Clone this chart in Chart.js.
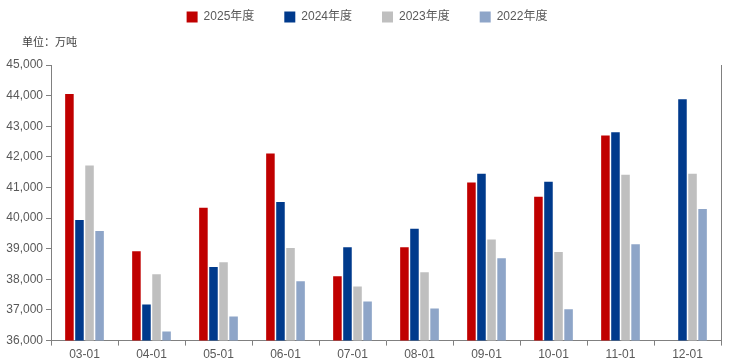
<!DOCTYPE html>
<html>
<head>
<meta charset="utf-8">
<script src="https://cdn.jsdelivr.net/npm/chart.js@4"></script>
<style>
  html, body { margin: 0; padding: 0; background: #fff; }
  #wrap { width: 734px; height: 364px; }
</style>
</head>
<body>
<div id="wrap"><canvas id="canvas"></canvas></div>
<script>
let labels = ['03-01', '04-01', '05-01', '06-01', '07-01', '08-01', '09-01', '10-01', '11-01', '12-01'];
let y2025 = [44050, 38920, 40340, 42110, 38100, 39050, 41160, 40700, 42700, null];
let y2024 = [39940, 37180, 38400, 40530, 39050, 39650, 41450, 41190, 42800, 43880];
let y2023 = [41720, 38170, 38560, 39020, 37770, 38230, 39300, 38890, 41420, 41450];
let y2022 = [39580, 36300, 36790, 37940, 37280, 37050, 38690, 37020, 39150, 40300];
let unit = '单位：万吨';

let font = '"Liberation Sans", "Noto Sans CJK SC", sans-serif';
let textColor = '#595959';
let axisColor = '#808080';

function series(label, data, color) {
  return {
    label: label,
    data: data,
    backgroundColor: color,
    borderWidth: 0,
    categoryPercentage: 0.6,
    barPercentage: 0.85
  };
}

// little extras: unit text at top-left and more room under the legend
let extras = {
  id: 'extras',
  beforeInit(chart) {
    let fit = chart.legend.fit;
    chart.legend.fit = function () {
      fit.call(this);
      this.height += 32;
    };
  },
  afterDraw(chart) {
    let ctx = chart.ctx;
    ctx.save();
    ctx.font = '11px ' + font;
    ctx.fillStyle = '#404040';
    ctx.textBaseline = 'middle';
    ctx.fillText(unit, 22, 43);
    ctx.restore();
  }
};

let options = {
  type: 'bar',
  data: {
    labels: labels,
    datasets: [
      series('2025年度', y2025, '#C00000'),
      series('2024年度', y2024, '#003A8C'),
      series('2023年度', y2023, '#BFBFBF'),
      series('2022年度', y2022, '#8EA5C8')
    ]
  },
  options: {
    responsive: true,
    maintainAspectRatio: false,
    animation: false,
    layout: { padding: { top: -19, right: 0, left: 0, bottom: 0 } },
    plugins: {
      legend: {
        position: 'top',
        labels: {
          boxWidth: 11,
          boxHeight: 11,
          padding: 30,
          color: textColor,
          font: { family: font, size: 12 }
        }
      },
      tooltip: { enabled: false }
    },
    scales: {
      x: {
        offset: true,
        grid: {
          offset: true,
          drawOnChartArea: false,
          color: axisColor,
          tickLength: 5
        },
        border: { color: axisColor },
        ticks: { color: textColor, font: { family: font, size: 12 }, maxRotation: 0, padding: 2 }
      },
      y: {
        min: 36000,
        max: 45000,
        afterFit(scale) { scale.width = 51; },
        grid: { drawOnChartArea: false, color: axisColor, tickLength: 5 },
        border: { color: axisColor },
        ticks: {
          stepSize: 1000,
          color: textColor,
          padding: 3,
          font: { family: font, size: 12 },
          callback: v => v.toLocaleString('en-US')
        }
      },
      y2: {
        position: 'right',
        min: 36000,
        max: 45000,
        afterFit(scale) { scale.width = 13; },
        grid: { drawOnChartArea: false, drawTicks: false },
        border: { color: axisColor },
        ticks: { display: false }
      }
    }
  },
  plugins: [extras]
};

let chart = new Chart(document.getElementById('canvas'), options);
</script>
</body>
</html>
